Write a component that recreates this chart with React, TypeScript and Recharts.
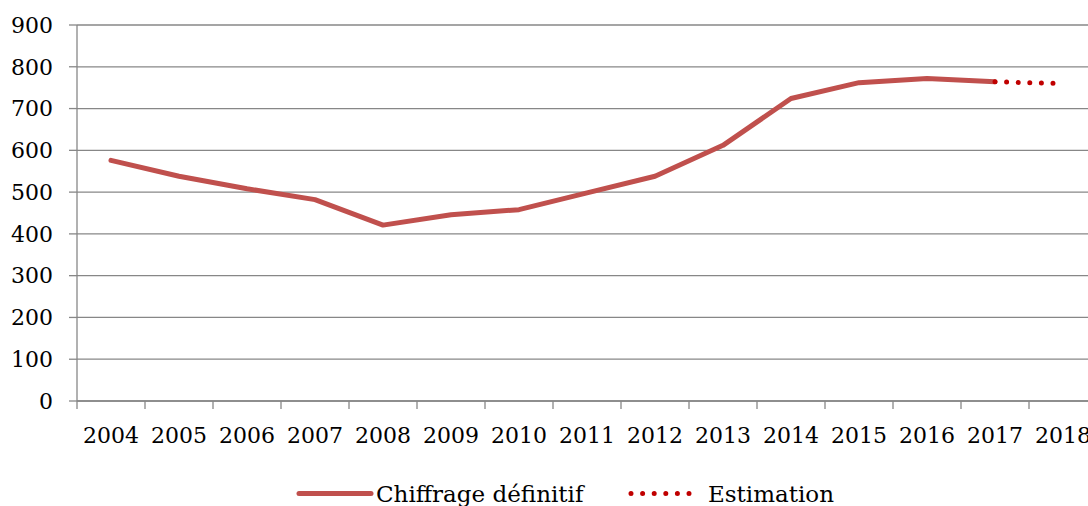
import React from 'react';
import { LineChart, Line, XAxis, YAxis, CartesianGrid } from 'recharts';

const years = ['2004', '2005', '2006', '2007', '2008', '2009', '2010', '2011', '2012', '2013', '2014', '2015', '2016', '2017', '2018'];
// final figures, 2004 → 2017
const definitif = [576, 538, 508, 482, 421, 446, 458, 498, 538, 612, 724, 762, 772, 764];
// estimate, 2017 → 2018
const estimationYears = ['2017', '2018'];
const estimation = [764, 760];
const yTicks = [0, 100, 200, 300, 400, 500, 600, 700, 800, 900];

const GRID = '#878787';
const MAIN = '#C0504D';
const EST = '#C00000';
const FONT = 'DejaVu Serif, serif';

const data = years.map((year, i) => {
  const e = estimationYears.indexOf(year);
  return {
    pos: i + 0.5,
    year,
    definitif: i < definitif.length ? definitif[i] : null,
    estimation: e >= 0 ? estimation[e] : null,
  };
});

// category boundaries get the tick marks, category centres get the labels
const boundTicks = years.map((_, i) => i).concat(years.length);
const labelTicks = years.map((_, i) => i + 0.5);

const tickStyle = { fill: '#000', fontSize: 22, fontFamily: FONT };

const legendItem: React.CSSProperties = {
  position: 'absolute',
  top: 477,
  display: 'flex',
  alignItems: 'center',
  height: 33,
  fontSize: 23,
  fontFamily: FONT,
  color: '#000',
  whiteSpace: 'nowrap',
};

const LegendRow = () => (
  <>
    <div style={{ ...legendItem, left: 296 }}>
      <svg width={78} height={33}>
        <line x1={3} y1={16.5} x2={75} y2={16.5} stroke={MAIN} strokeWidth={5} strokeLinecap="round" />
      </svg>
      <span style={{ marginLeft: 2 }}>Chiffrage définitif</span>
    </div>
    <div style={{ ...legendItem, left: 627 }}>
      <svg width={66} height={33}>
        <line x1={4} y1={16.5} x2={63} y2={16.5} stroke={EST} strokeWidth={5} strokeLinecap="round" strokeDasharray="0 11.6" />
      </svg>
      <span style={{ marginLeft: 15 }}>Estimation</span>
    </div>
  </>
);

export default function App() {
  return (
    <div style={{ position: 'absolute', left: 0, top: 0, width: 1088, height: 506, overflow: 'hidden', background: '#fff' }}>
      <LineChart width={1110} height={506} data={data} margin={{ top: 25, right: 13, bottom: 103, left: 0 }}>
        <CartesianGrid xAxisId="years" vertical={false} stroke={GRID} strokeWidth={1.3} strokeDasharray="" />
        <XAxis
          xAxisId="bounds"
          dataKey="pos"
          type="number"
          domain={[0, years.length]}
          ticks={boundTicks}
          interval={0}
          height={1}
          tickFormatter={() => ''}
          tickSize={8}
          axisLine={{ stroke: GRID, strokeWidth: 1.3 }}
          tickLine={{ stroke: GRID, strokeWidth: 1.3 }}
        />
        <XAxis
          xAxisId="years"
          dataKey="pos"
          type="number"
          domain={[0, years.length]}
          ticks={labelTicks}
          interval={0}
          height={1}
          tickFormatter={(v: number) => years[Math.floor(v)]}
          tickSize={8}
          tickMargin={17}
          axisLine={false}
          tickLine={false}
          tick={tickStyle}
        />
        <YAxis
          domain={[0, 900]}
          ticks={yTicks}
          interval={0}
          width={77}
          tickSize={8}
          tickMargin={16}
          axisLine={{ stroke: GRID, strokeWidth: 1.3 }}
          tickLine={{ stroke: GRID, strokeWidth: 1.3 }}
          tick={tickStyle}
        />
        <Line
          xAxisId="years"
          type="linear"
          dataKey="definitif"
          stroke={MAIN}
          strokeWidth={5}
          strokeLinecap="round"
          strokeLinejoin="round"
          dot={false}
          activeDot={false}
          isAnimationActive={false}
        />
        <Line
          xAxisId="years"
          type="linear"
          dataKey="estimation"
          stroke={EST}
          strokeWidth={5}
          strokeLinecap="round"
          strokeDasharray="0 11.6"
          dot={false}
          activeDot={false}
          isAnimationActive={false}
        />
      </LineChart>
      <LegendRow />
    </div>
  );
}
